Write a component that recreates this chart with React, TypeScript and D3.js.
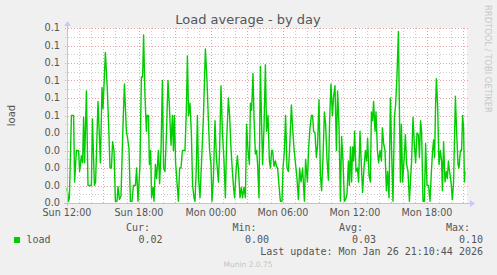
import React from 'react';
import * as d3 from 'd3';

const W = 497;
const H = 275;

const title = 'Load average - by day';
const yAxisLabel = 'load';
const seriesName = 'load';
const watermark = 'RRDTOOL / TOBI OETIKER';
const footer = 'Munin 2.0.75';
const lastUpdate = 'Last update: Mon Jan 26 21:10:44 2026';
const legendHeaders = ['Cur:', 'Min:', 'Avg:', 'Max:'];
const legendValues = ['0.02', '0.00', '0.03', '0.10'];

// minutes since Sun 12:00 (UTC) and load values
const minutes = [
  0, 8, 12, 22, 33, 38, 47, 58, 63, 72, 78, 83, 88, 97, 105, 122, 127, 137, 143, 155, 167, 175, 180, 192, 202, 208, 215, 222, 228, 235, 242, 250, 255, 262, 270, 278, 287, 297, 303, 310, 317, 325, 332, 342, 348, 355, 365, 372, 378, 383, 390, 397,
  400, 407, 412, 418, 423, 430, 435, 442, 448, 457, 463, 470, 477, 483, 490, 497, 505, 512, 520, 527, 532, 537, 543, 550, 557, 563, 570, 577, 590, 597, 602, 608, 615, 622, 628, 635, 640, 647, 652, 658, 665, 673, 682, 692, 700, 707, 713, 720, 725, 732, 740, 747, 757, 763, 770, 777, 785, 792, 798, 807,
  813, 820, 827, 832, 838, 845, 852, 858, 865, 872, 878, 885, 892, 898, 905, 912, 917, 923, 930, 935, 942, 948, 953, 960, 967, 972, 978, 985, 992, 998, 1005, 1012, 1017, 1023, 1028, 1035, 1042, 1047, 1053, 1060, 1067, 1075, 1080, 1087, 1093, 1100, 1107, 1113, 1122, 1128, 1135, 1143, 1150, 1157, 1163, 1170, 1178, 1187, 1193, 1202, 1208, 1215, 1222,
  1228, 1233, 1240, 1247, 1253, 1260, 1267, 1273, 1280, 1287, 1293, 1300, 1307, 1313, 1320, 1327, 1333, 1340, 1347, 1353, 1360, 1367, 1373, 1380, 1387, 1393, 1400, 1407, 1412, 1417, 1423, 1428, 1433, 1438, 1445, 1452, 1458, 1465, 1472, 1478, 1485, 1492, 1498, 1503, 1510, 1517, 1522, 1528, 1533, 1540, 1545, 1552, 1558, 1565, 1572, 1577, 1583, 1590, 1597, 1603, 1610, 1617, 1623, 1630, 1637,
  1643, 1650, 1657, 1662, 1667, 1672, 1678, 1685, 1692, 1698, 1705, 1712, 1718, 1723, 1730, 1737, 1743, 1750, 1757, 1762, 1768, 1773, 1780, 1787, 1793, 1800, 1808, 1815, 1822, 1828, 1833, 1838, 1843, 1847, 1853, 1860, 1867, 1873, 1877, 1883, 1890, 1897, 1902, 1907, 1913, 1920, 1927, 1933, 1942, 1948, 1955, 1960, 1967, 1973, 1978, 1983, 1987, 1990,
];
const loads = [
  0.0086, 0.001, 0.003, 0.05, 0.05, 0.012, 0.03, 0.03, 0.018, 0.027, 0.023, 0.049, 0.023, 0.064, 0.01, 0.01, 0.048, 0.01, 0.012, 0.058, 0.023, 0.066, 0.054, 0.086, 0.064, 0.045, 0.02, 0.02, 0.035, 0.03, 0.001, 0.001, 0.0095, 0.002, 0.004, 0.037, 0.068, 0.041, 0.037, 0.031, 0.001, 0.001, 0.01, 0.01, 0.02, 0.001, 0.022, 0.072, 0.072, 0.096, 0.061, 0.041,
  0.05, 0.05, 0.022, 0.03, 0.003, 0.009, 0.001, 0.022, 0.014, 0.03, 0.011, 0.03, 0.07, 0.02, 0.018, 0.039, 0.07, 0.055, 0.033, 0.05, 0.03, 0.05, 0.023, 0.012, 0.001, 0.02, 0.02, 0.03, 0.03, 0.054, 0.084, 0.05, 0.057, 0.039, 0.01, 0.003, 0.001, 0.022, 0.05, 0.014, 0.003, 0.024, 0.049, 0.088, 0.07, 0.047, 0.03, 0.022, 0.001, 0.014, 0.047, 0.026, 0.012, 0.03, 0.067, 0.041, 0.024, 0.003, 0.035, 0.06,
  0.05, 0.031, 0.018, 0.01, 0.003, 0.018, 0.027, 0.018, 0.003, 0.009, 0.003, 0.009, 0.003, 0.045, 0.03, 0.022, 0.057, 0.053, 0.074, 0.049, 0.028, 0.03, 0.022, 0.003, 0.078, 0.05, 0.022, 0.043, 0.079, 0.041, 0.05, 0.024, 0.02, 0.03, 0.03, 0.021, 0.024, 0.021, 0.02, 0.01, 0.001, 0.001, 0.02, 0.03, 0.05, 0.02, 0.018, 0.031, 0.056, 0.043, 0.031, 0.022, 0.014, 0.002, 0.02, 0.012, 0.02, 0.001, 0.025, 0.012, 0.031, 0.043, 0.05,
  0.05, 0.041, 0.04, 0.026, 0.033, 0.059, 0.016, 0.007, 0.026, 0.052, 0.045, 0.025, 0.013, 0.047, 0.068, 0.05, 0.061, 0.067, 0.03, 0.064, 0.044, 0.001, 0.038, 0.024, 0.001, 0.002, 0.005, 0.024, 0.01, 0.032, 0.012, 0.032, 0.024, 0.041, 0.018, 0.02, 0.012, 0.041, 0.021, 0.006, 0.02, 0.03, 0.024, 0.037, 0.016, 0.012, 0.052, 0.047, 0.058, 0.041, 0.052, 0.03, 0.023, 0.03, 0.024, 0.043, 0.034, 0.03, 0.007, 0.018, 0.003, 0.06, 0.03, 0.001, 0.049,
  0.056, 0.073, 0.098, 0.054, 0.012, 0.045, 0.012, 0.024, 0.039, 0.022, 0.018, 0.001, 0.014, 0.024, 0.049, 0.033, 0.023, 0.04, 0.039, 0.026, 0.047, 0.041, 0.001, 0.001, 0.034, 0.01, 0.01, 0.001, 0.018, 0.03, 0.036, 0.026, 0.056, 0.071, 0.056, 0.022, 0.03, 0.024, 0.007, 0.035, 0.012, 0.018, 0.014, 0.024, 0.018, 0.012, 0.002, 0.012, 0.061, 0.041, 0.022, 0.02, 0.03, 0.03, 0.05, 0.043, 0.012, 0.018,
];

const yTickValues = [0, 0.01, 0.02, 0.03, 0.04, 0.05, 0.06, 0.07, 0.08, 0.09, 0.1];
const yTickLabels = ['0.0', '0.0', '0.0', '0.0', '0.0', '0.1', '0.1', '0.1', '0.1', '0.1', '0.1'];
const xLabelHours = [0, 6, 12, 18, 24, 30];

const START = Date.UTC(2026, 0, 25, 12, 0, 0);
const SPAN_MIN = 2000;

const PLOT = { left: 67, right: 467, top: 28, bottom: 203 };

export default function App() {
  const x = d3
    .scaleUtc()
    .domain([new Date(START), new Date(START + SPAN_MIN * 60000)])
    .range([PLOT.left, PLOT.right]);
  const y = d3.scaleLinear().domain([0, 0.1]).range([PLOT.bottom, PLOT.top]);

  const points = minutes.map((m, i) => ({ t: new Date(START + m * 60000), v: loads[i] }));
  const line = d3
    .line<{ t: Date; v: number }>()
    .x((d) => x(d.t))
    .y((d) => y(d.v));

  const hourTicks = d3.utcHour.range(new Date(START), new Date(START + SPAN_MIN * 60000 + 1));
  const minorY = d3.range(0, 0.1001, 0.005);
  const fmt = d3.utcFormat('%a %H:%M');

  const font = 'DejaVu Sans, sans-serif';
  const mono = 'DejaVu Sans Mono, monospace';
  const major = '#e8a0a0';
  const minor = '#cccccc';
  const axisCol = '#c0c0ea';

  const legendColsRight = [150, 256.5, 363, 470];
  const legendValRight = [162.5, 269, 376, 483];

  return (
    <svg
      width={W}
      height={H}
      style={{ position: 'absolute', left: 0, top: 0, background: '#f0f0f0' }}
      xmlns="http://www.w3.org/2000/svg"
    >
      <rect x={0} y={0} width={W} height={H} fill="#f0f0f0" />
      <rect
        x={PLOT.left}
        y={PLOT.top}
        width={PLOT.right - PLOT.left}
        height={PLOT.bottom - PLOT.top}
        fill="#ffffff"
      />

      {/* minor horizontal grid */}
      {minorY.map((v, i) =>
        i % 2 === 1 ? (
          <line
            key={'hy' + i}
            x1={PLOT.left - 2}
            x2={PLOT.right + 2}
            y1={Math.round(y(v)) + 0.5}
            y2={Math.round(y(v)) + 0.5}
            stroke={minor}
            strokeDasharray="1,2"
          />
        ) : null
      )}
      {/* minor vertical grid */}
      {hourTicks.map((t, i) =>
        i % 3 !== 0 ? (
          <line
            key={'vx' + i}
            x1={Math.round(x(t)) + 0.5}
            x2={Math.round(x(t)) + 0.5}
            y1={PLOT.top}
            y2={PLOT.bottom + 2}
            stroke={minor}
            strokeDasharray="1,2"
          />
        ) : null
      )}
      {/* major horizontal grid */}
      {yTickValues.map((v, i) => (
        <line
          key={'my' + i}
          x1={PLOT.left - 2}
          x2={PLOT.right + 2}
          y1={Math.round(y(v)) + 0.5}
          y2={Math.round(y(v)) + 0.5}
          stroke={major}
          strokeDasharray="1,2"
        />
      ))}
      {/* major vertical grid */}
      {hourTicks.map((t, i) =>
        i % 3 === 0 ? (
          <line
            key={'mx' + i}
            x1={Math.round(x(t)) + 0.5}
            x2={Math.round(x(t)) + 0.5}
            y1={PLOT.top}
            y2={PLOT.bottom + 2}
            stroke={major}
            strokeDasharray="1,2"
          />
        ) : null
      )}

      {/* data */}
      <path d={line(points) || ''} fill="none" stroke="#00cc00" strokeWidth={1.4} strokeLinejoin="round" />

      {/* axes */}
      <line x1={PLOT.left - 3} x2={PLOT.right + 4} y1={PLOT.bottom + 0.5} y2={PLOT.bottom + 0.5} stroke={axisCol} />
      <line x1={PLOT.left + 0.5} x2={PLOT.left + 0.5} y1={PLOT.bottom + 3} y2={PLOT.top - 3} stroke={axisCol} />
      <path
        d={`M${PLOT.right + 3},${PLOT.bottom - 3} L${PLOT.right + 8},${PLOT.bottom + 0.5} L${PLOT.right + 3},${PLOT.bottom + 4} Z`}
        fill="#c8c8ff"
      />
      <path
        d={`M${PLOT.left - 3},${PLOT.top - 2} L${PLOT.left + 0.5},${PLOT.top - 7} L${PLOT.left + 4},${PLOT.top - 2} Z`}
        fill="#c8c8ff"
      />

      {/* y tick labels */}
      {yTickValues.map((v, i) => (
        <text
          key={'yl' + i}
          x={60}
          y={y(v) + 3.2}
          textAnchor="end"
          fontFamily={font}
          fontSize={9.8}
          fill="#555555"
        >
          {yTickLabels[i]}
        </text>
      ))}

      {/* x tick labels */}
      {xLabelHours.map((h) => {
        const t = new Date(START + h * 3600000);
        return (
          <text
            key={'xl' + h}
            x={x(t)}
            y={216.3}
            textAnchor="middle"
            fontFamily={font}
            fontSize={9.6}
            fill="#555555"
          >
            {fmt(t)}
          </text>
        );
      })}

      {/* title */}
      <text x={248} y={24} textAnchor="middle" fontFamily={font} fontSize={13} fill="#555555">
        {title}
      </text>

      {/* y axis label */}
      <text
        transform={`translate(14.5,${(PLOT.top + PLOT.bottom) / 2}) rotate(-90)`}
        textAnchor="middle"
        fontFamily={font}
        fontSize={10}
        fill="#555555"
      >
        {yAxisLabel}
      </text>

      {/* watermark */}
      <text
        transform="translate(485,5) rotate(90)"
        textAnchor="start"
        fontFamily={font}
        fontSize={8.4}
        fill="#c8c8c8"
      >
        {watermark}
      </text>

      {/* legend */}
      {legendHeaders.map((h, i) => (
        <text key={'lh' + i} x={legendColsRight[i]} y={231} textAnchor="end" fontFamily={mono} fontSize={10} fill="#555555">
          {h}
        </text>
      ))}
      <rect x={14} y={237} width={6} height={6} fill="#00cc00" />
      <text x={26.5} y={243} fontFamily={mono} fontSize={10} fill="#555555">
        {seriesName}
      </text>
      {legendValues.map((v, i) => (
        <text key={'lv' + i} x={legendValRight[i]} y={243} textAnchor="end" fontFamily={mono} fontSize={10} fill="#555555">
          {v}
        </text>
      ))}
      <text x={483} y={255} textAnchor="end" fontFamily={mono} fontSize={10} fill="#555555">
        {lastUpdate}
      </text>
      <text x={248} y={266.5} textAnchor="middle" fontFamily={font} fontSize={7.5} fill="#c4c4c4">
        {footer}
      </text>
    </svg>
  );
}
